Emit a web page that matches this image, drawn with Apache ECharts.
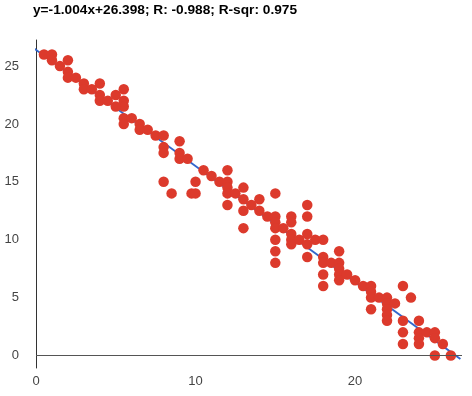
<!DOCTYPE html>
<html><head><meta charset="utf-8">
<script src="https://cdn.jsdelivr.net/npm/echarts@6/dist/echarts.min.js"></script>
<style>html,body{margin:0;padding:0;background:#fff}#c{width:472px;height:396px}</style>
</head><body><div id="c"></div>
<script>
const titleText = 'y=-1.004x+26.398; R: -0.988; R-sqr: 0.975';
const xTicks = [0, 10, 20];
const yTicks = [0, 5, 10, 15, 20, 25];
const pointsX = [
  0.5,1,1,1.5,2,2,2,2.5,3,4,3,3.5,4,4,4.5,5,5.5,5.5,5.5,5,5.5,5.5,6,6.5,6.5,7,7.5,
  8,8,8,9,9,9,9.5,10.5,11,11.5,12,12,12,12,12,12.5,8,8.5,10,9.75,10,
  13,13,13,13,13.5,14,14,14.5,
  15,15,15,15,15.5,15,15,15,16,16,16,16,16,16.5,17,17,17,17,17,17.5,18,18,18,18,18,18.5,
  19,19,19,19,19,19.5,20,20.5,21,21,21,21,21.5,22,22,22,22,22,22.5,23,23.5,23,23,23,
  24,24,24,24,24.5,25,25,25.5,25,26
];
const pointsY = [
  26,26,25.5,25,25.5,24.5,24,24,23.5,23.5,23,23,22.5,22,22,22.5,23,22,21.5,21.5,20.5,20,20.5,20,19.5,19.5,19,
  19,18,17.5,18.5,17.5,17,17,16,15.5,15,16,15,14.5,14,13,14,15,14,15,14,14,
  14.5,13.5,12.5,11,13,13.5,12.5,12,
  14,12,11.5,11,11,10,9,8,12,11.5,10.5,10,9.6,10,13,12,10.5,9.6,8.5,10,10,8.5,8,7,6,8,
  9,8,7.5,7,6.5,7,6.5,6,6,5.5,5,4,5,5,4.5,4,3.5,3,4.5,6,5,3,2,1,
  3,2,1.5,1,2,2,1.5,1,0,0
];
const slope = -1.004, intercept = 26.398;
const trendX = [-0.2, 26.6];

const scatterData = pointsX.map((x, i) => [x, pointsY[i]]);
const trendData = trendX.map(x => [x, slope * x + intercept]);

const chart = echarts.init(document.getElementById('c'), null, {renderer: 'canvas'});
chart.setOption({
  animation: false,
  title: {
    text: titleText, left: 33, top: 3, padding: 0,
    textStyle: {fontFamily: 'Liberation Sans', fontSize: 13.7, fontWeight: 'bold', color: '#000'}
  },
  grid: {left: 36, right: 10, top: 40, bottom: 28, containLabel: false},
  xAxis: {
    type: 'value', min: 0, max: 26.7,
    axisLine: {show: false}, axisTick: {show: false}, splitLine: {show: false},
    axisLabel: {customValues: xTicks, margin: 7, fontFamily: 'Liberation Sans', fontSize: 13, color: '#444'}
  },
  yAxis: {
    type: 'value', min: -1.08, max: 27.25,
    axisLine: {show: true, onZero: false, lineStyle: {color: '#333', width: 1}},
    axisTick: {show: false}, splitLine: {show: false},
    axisLabel: {customValues: yTicks, margin: 17, fontFamily: 'Liberation Sans', fontSize: 13, color: '#444'}
  },
  series: [
    {
      type: 'line', data: trendData, showSymbol: false, symbol: 'none', clip: false, z: 1,
      lineStyle: {color: '#3366cc', width: 2}, silent: true
    },
    {
      type: 'scatter', data: scatterData, symbolSize: 10.5, z: 3,
      itemStyle: {color: '#dc3a2c', opacity: 1},
      markLine: {
        silent: true, symbol: 'none', animation: false,
        label: {show: false},
        lineStyle: {color: '#555', width: 1, type: 'solid'},
        data: [{yAxis: 0}]
      }
    }
  ]
});
</script></body></html>
